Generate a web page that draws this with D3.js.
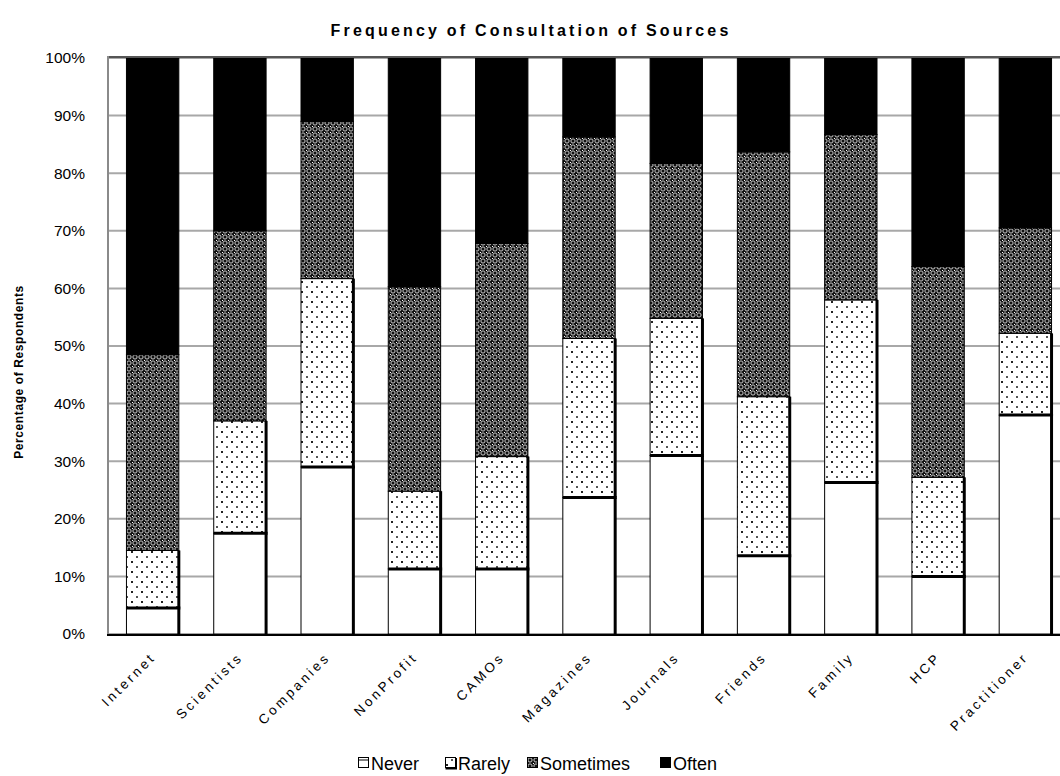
<!DOCTYPE html>
<html>
<head>
<meta charset="utf-8">
<script src="https://cdn.jsdelivr.net/npm/d3@7"></script>
<style>
  html, body { margin: 0; padding: 0; background: #fff; }
  svg { display: block; font-family: "Liberation Sans", Arial, sans-serif; }
</style>
</head>
<body>
<svg id="chart" width="1060" height="776"></svg>
<script>
// Sources consulted and share of respondents (%) per frequency
const categories = ["Internet", "Scientists", "Companies", "NonProfit", "CAMOs", "Magazines",
                    "Journals", "Friends", "Family", "HCP", "Practitioner"];
const never     = [4.5, 17.5, 29.0, 11.3, 11.3, 23.7, 31.0, 13.6, 26.3, 10.0, 38.0];
const rarely    = [10.0, 19.5, 32.7, 13.5, 19.5, 27.6, 23.8, 27.6, 31.7, 17.2, 14.2];
const sometimes = [34.0, 33.0, 27.3, 35.5, 37.0, 35.0, 26.9, 42.5, 28.7, 36.6, 18.3];
const often     = [51.5, 30.0, 11.0, 39.7, 32.2, 13.7, 18.3, 16.3, 13.3, 36.2, 29.5];
const seriesNames = ["Never", "Rarely", "Sometimes", "Often"];
const yTicks = [0, 10, 20, 30, 40, 50, 60, 70, 80, 90, 100];

const rows = categories.map((c, i) => ({
  cat: c, Never: never[i], Rarely: rarely[i], Sometimes: sometimes[i], Often: often[i]
}));

const svg = d3.select("#chart");
const margin = { left: 109, right: -9, top: 58, bottom: 142 };
const W = 1060, H = 776;

const x = d3.scaleBand().domain(categories)
  .range([margin.left, W - margin.right])
  .paddingInner(0.4).paddingOuter(0.2);
const y = d3.scaleLinear().domain([0, 100]).range([H - margin.bottom, margin.top]);

// Fill patterns
const defs = svg.append("defs");
const pRare = defs.append("pattern").attr("id", "rarely")
  .attr("patternUnits", "userSpaceOnUse").attr("width", 10).attr("height", 10);
pRare.append("rect").attr("width", 10).attr("height", 10).attr("fill", "#fff");
pRare.append("rect").attr("x", 1).attr("y", 1).attr("width", 2).attr("height", 2).attr("fill", "#222");
pRare.append("rect").attr("x", 6).attr("y", 6).attr("width", 2).attr("height", 2).attr("fill", "#555");

const pSome = defs.append("pattern").attr("id", "sometimes")
  .attr("patternUnits", "userSpaceOnUse").attr("width", 6).attr("height", 6);
pSome.append("rect").attr("width", 6).attr("height", 6).attr("fill", "#111");
pSome.append("circle").attr("cx", 3).attr("cy", 3).attr("r", 2.1)
  .attr("fill", "none").attr("stroke", "#c8c8c8").attr("stroke-width", 1);
pSome.append("rect").attr("x", 0).attr("y", 0).attr("width", 1).attr("height", 1).attr("fill", "#fff");

const fills = { Never: "#fff", Rarely: "url(#rarely)", Sometimes: "url(#sometimes)", Often: "#000" };

// Horizontal gridlines
svg.append("g").selectAll("line").data(yTicks).join("line")
  .attr("x1", margin.left).attr("x2", W)
  .attr("y1", d => y(d)).attr("y2", d => y(d))
  .attr("stroke", "#a8a8a8").attr("stroke-width", 2);

// Title
svg.append("text").attr("x", 531).attr("y", 36).attr("text-anchor", "middle")
  .attr("font-size", 16).attr("font-weight", "bold")
  .attr("letter-spacing", 3.2).attr("word-spacing", -1)
  .text("Frequency of Consultation of Sources");

// Stacked bars
const stack = d3.stack().keys(seriesNames)(rows);
const layers = svg.append("g").selectAll("g").data(stack).join("g");
layers.selectAll("rect").data(d => d.map(s => ({ key: d.key, s }))).join("rect")
  .attr("x", d => x(d.s.data.cat))
  .attr("width", x.bandwidth())
  .attr("y", d => y(d.s[1]))
  .attr("height", d => y(d.s[0]) - y(d.s[1]))
  .attr("fill", d => fills[d.key])
  .attr("stroke", "#000").attr("stroke-width", 1);

// Shadowed edges on the lower two segments
const shadow = svg.append("g");
stack.filter(l => l.key === "Never" || l.key === "Rarely").forEach(l => {
  shadow.selectAll(null).data(l).join("line")
    .attr("x1", d => x(d.data.cat) + x.bandwidth()).attr("x2", d => x(d.data.cat) + x.bandwidth())
    .attr("y1", d => y(d[1])).attr("y2", d => y(d[0]))
    .attr("stroke", "#000").attr("stroke-width", 3);
});
const rare = stack.find(l => l.key === "Rarely");
shadow.selectAll(null).data(rare).join("line")
  .attr("x1", d => x(d.data.cat)).attr("x2", d => x(d.data.cat) + x.bandwidth() + 1.5)
  .attr("y1", d => y(d[0])).attr("y2", d => y(d[0]))
  .attr("stroke", "#000").attr("stroke-width", 3);

// Plot frame (top and left)
svg.append("line").attr("x1", margin.left).attr("x2", W)
  .attr("y1", y(100) - 1).attr("y2", y(100) - 1)
  .attr("stroke", "#555").attr("stroke-width", 2);
svg.append("line").attr("x1", margin.left - 1).attr("x2", margin.left - 1)
  .attr("y1", y(100) - 2).attr("y2", y(0))
  .attr("stroke", "#8a8a8a").attr("stroke-width", 2);

// Y axis
const yAxis = svg.append("g").attr("transform", `translate(${margin.left - 2},0)`)
  .call(d3.axisLeft(y).tickValues(yTicks).tickFormat(d => d + "%").tickSize(0).tickPadding(22));
yAxis.select(".domain").remove();
yAxis.selectAll("text").attr("font-size", 15.5).attr("fill", "#000")
  .attr("font-family", "'Liberation Sans', Arial, sans-serif");

// X axis baseline
svg.append("line").attr("x1", margin.left - 2).attr("x2", W)
  .attr("y1", y(0) + 1).attr("y2", y(0) + 1)
  .attr("stroke", "#000").attr("stroke-width", 2);

// Category labels
svg.append("g").selectAll("text").data(categories).join("text")
  .attr("transform", d => `translate(${x(d) + x.bandwidth() / 2 + 4},${y(0) + 24}) rotate(-45)`)
  .attr("text-anchor", "end")
  .attr("font-size", 13.5).attr("letter-spacing", 3)
  .text(d => d);

// Y axis title
svg.append("text")
  .attr("transform", `translate(23,372) rotate(-90)`)
  .attr("text-anchor", "middle").attr("font-size", 12).attr("font-weight", "bold")
  .attr("letter-spacing", 0.6)
  .text("Percentage of Respondents");

// Legend
const legendX = [358, 445, 527, 660];
const lg = svg.append("g").selectAll("g").data(seriesNames).join("g")
  .attr("transform", (d, i) => `translate(${legendX[i]},763)`);
lg.append("rect").attr("x", 0.5).attr("y", -5.5).attr("width", 10).attr("height", 10)
  .attr("fill", d => fills[d]).attr("stroke", "#000").attr("stroke-width", 1);
lg.filter(d => d === "Rarely").append("path")
  .attr("d", "M11,-5 V5.5 H0.5").attr("fill", "none").attr("stroke", "#000").attr("stroke-width", 2);
lg.filter(d => d === "Never").append("line")
  .attr("x1", 0.5).attr("x2", 10.5).attr("y1", -3).attr("y2", -3).attr("stroke", "#000");
lg.append("text").attr("x", 13).attr("y", 6.5).attr("font-size", 18).text(d => d);
</script>
</body>
</html>
